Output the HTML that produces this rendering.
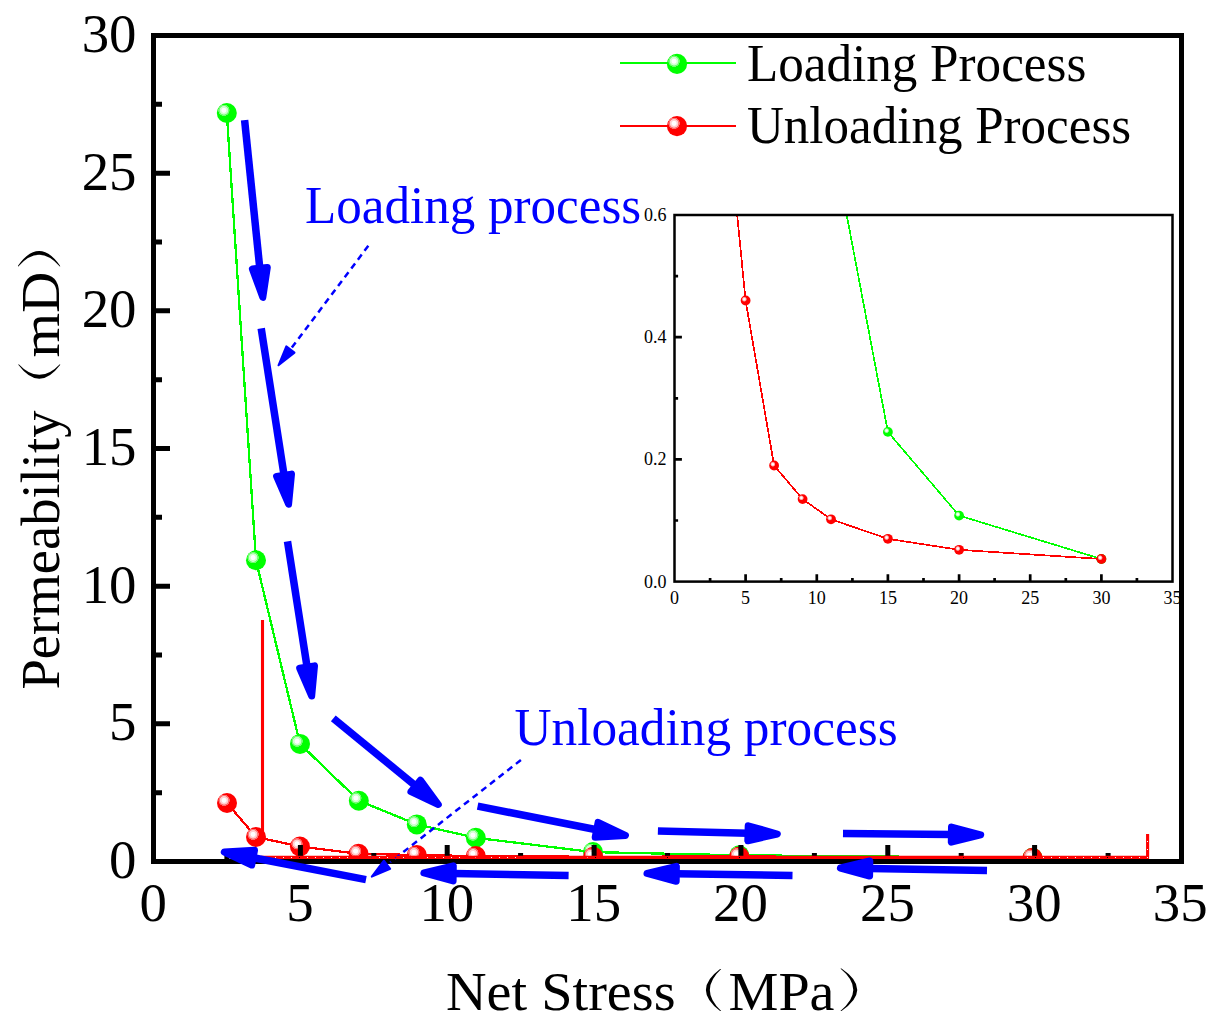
<!DOCTYPE html>
<html><head><meta charset="utf-8"><title>Permeability vs Net Stress</title>
<style>html,body{margin:0;padding:0;background:#fff;}svg{display:block;}text{font-family:"Liberation Serif",serif;}</style>
</head><body>
<svg width="1224" height="1031" viewBox="0 0 1224 1031">
<defs>
<radialGradient id="gG" cx="0.355" cy="0.365" r="0.29" fx="0.355" fy="0.365"><stop offset="0" stop-color="#ffffff"/><stop offset="0.36" stop-color="#ffffff"/><stop offset="0.5" stop-color="#d0ffd0"/><stop offset="0.68" stop-color="#d0ffd0"/><stop offset="0.78" stop-color="#70ff70"/><stop offset="0.94" stop-color="#70ff70"/><stop offset="1" stop-color="#00ff00"/></radialGradient>
<radialGradient id="gR" cx="0.355" cy="0.365" r="0.29" fx="0.355" fy="0.365"><stop offset="0" stop-color="#ffffff"/><stop offset="0.36" stop-color="#ffffff"/><stop offset="0.5" stop-color="#ffd0d0"/><stop offset="0.68" stop-color="#ffd0d0"/><stop offset="0.78" stop-color="#ff7070"/><stop offset="0.94" stop-color="#ff7070"/><stop offset="1" stop-color="#ff0000"/></radialGradient>
<radialGradient id="gGs" cx="0.37" cy="0.37" r="0.27" fx="0.37" fy="0.37"><stop offset="0" stop-color="#ffffff"/><stop offset="0.25" stop-color="#ffffff"/><stop offset="0.55" stop-color="#c8ffc8"/><stop offset="0.8" stop-color="#70ff70"/><stop offset="1" stop-color="#00ff00"/></radialGradient>
<radialGradient id="gRs" cx="0.37" cy="0.37" r="0.27" fx="0.37" fy="0.37"><stop offset="0" stop-color="#ffffff"/><stop offset="0.25" stop-color="#ffffff"/><stop offset="0.55" stop-color="#ffc8c8"/><stop offset="0.8" stop-color="#ff7070"/><stop offset="1" stop-color="#ff0000"/></radialGradient>
<clipPath id="cpM"><rect x="153.5" y="35.5" width="1028.0" height="826.0"/></clipPath>
<clipPath id="cpI"><rect x="674.5" y="215.0" width="498.0" height="366.6"/></clipPath>
</defs>
<rect width="1224" height="1031" fill="#fff"/>
<g clip-path="url(#cpM)">
<polyline points="226.8,113.0 256.0,560.3 300.0,743.9 358.8,800.7 416.8,824.4 475.8,837.8 593.0,852.1 739.3,855.3 1032.5,857.8" fill="none" stroke="#00ff00" stroke-width="2.3" shape-rendering="crispEdges"/>
<circle cx="226.8" cy="113.0" r="10" fill="url(#gG)"/>
<circle cx="256.0" cy="560.3" r="10" fill="url(#gG)"/>
<circle cx="300.0" cy="743.9" r="10" fill="url(#gG)"/>
<circle cx="358.8" cy="800.7" r="10" fill="url(#gG)"/>
<circle cx="416.8" cy="824.4" r="10" fill="url(#gG)"/>
<circle cx="475.8" cy="837.8" r="10" fill="url(#gG)"/>
<circle cx="593.0" cy="852.1" r="10" fill="url(#gG)"/>
<circle cx="739.3" cy="855.3" r="10" fill="url(#gG)"/>
<circle cx="1032.5" cy="857.8" r="10" fill="url(#gG)"/>
<polyline points="227.0,803.0 256.0,837.0 299.9,846.5 358.5,853.8 416.8,855.0 475.8,856.1 593.2,856.8 739.3,856.5 1032.5,857.8" fill="none" stroke="#ff0000" stroke-width="2.3" shape-rendering="crispEdges"/>
<circle cx="227.0" cy="803.0" r="10" fill="url(#gR)"/>
<circle cx="256.0" cy="837.0" r="10" fill="url(#gR)"/>
<circle cx="299.9" cy="846.5" r="10" fill="url(#gR)"/>
<circle cx="358.5" cy="853.8" r="10" fill="url(#gR)"/>
<circle cx="416.8" cy="855.0" r="10" fill="url(#gR)"/>
<circle cx="475.8" cy="856.1" r="10" fill="url(#gR)"/>
<circle cx="593.2" cy="856.8" r="10" fill="url(#gR)"/>
<circle cx="739.3" cy="856.5" r="10" fill="url(#gR)"/>
<circle cx="1032.5" cy="857.8" r="10" fill="url(#gR)"/>
</g>
<g clip-path="url(#cpI)">
<polyline points="842.6,193.3 846.7,215.0 887.9,431.9 959.1,515.6 1101.4,559.0" fill="none" stroke="#00ff00" stroke-width="1.7" shape-rendering="crispEdges"/>
<circle cx="887.9" cy="431.9" r="4.9" fill="url(#gGs)"/>
<circle cx="959.1" cy="515.6" r="4.9" fill="url(#gGs)"/>
<circle cx="1101.4" cy="559.0" r="4.9" fill="url(#gGs)"/>
<polyline points="736.4,206.4 737.2,215.0 745.6,300.5 774.1,465.5 802.6,499.1 831.0,519.3 887.9,538.8 959.1,549.8 1101.4,559.0" fill="none" stroke="#ff0000" stroke-width="1.7" shape-rendering="crispEdges"/>
<circle cx="745.6" cy="300.5" r="4.9" fill="url(#gRs)"/>
<circle cx="774.1" cy="465.5" r="4.9" fill="url(#gRs)"/>
<circle cx="802.6" cy="499.1" r="4.9" fill="url(#gRs)"/>
<circle cx="831.0" cy="519.3" r="4.9" fill="url(#gRs)"/>
<circle cx="887.9" cy="538.8" r="4.9" fill="url(#gRs)"/>
<circle cx="959.1" cy="549.8" r="4.9" fill="url(#gRs)"/>
<circle cx="1101.4" cy="559.0" r="4.9" fill="url(#gRs)"/>
</g>
<rect x="674.5" y="215.0" width="498.0" height="366.6" fill="none" stroke="#000" stroke-width="2.5"/>
<path d="M710.1 581.6 v-3.6 M745.6 581.6 v-7.4 M781.2 581.6 v-3.6 M816.8 581.6 v-7.4 M852.4 581.6 v-3.6 M887.9 581.6 v-7.4 M923.5 581.6 v-3.6 M959.1 581.6 v-7.4 M994.6 581.6 v-3.6 M1030.2 581.6 v-7.4 M1065.8 581.6 v-3.6 M1101.4 581.6 v-7.4 M1136.9 581.6 v-3.6 M674.5 520.5 h3.6 M674.5 459.4 h7.4 M674.5 398.3 h3.6 M674.5 337.2 h7.4 M674.5 276.1 h3.6" stroke="#000" stroke-width="2.7" fill="none"/>
<text x="674.5" y="603.7" font-size="18" text-anchor="middle">0</text>
<text x="745.6" y="603.7" font-size="18" text-anchor="middle">5</text>
<text x="816.8" y="603.7" font-size="18" text-anchor="middle">10</text>
<text x="887.9" y="603.7" font-size="18" text-anchor="middle">15</text>
<text x="959.1" y="603.7" font-size="18" text-anchor="middle">20</text>
<text x="1030.2" y="603.7" font-size="18" text-anchor="middle">25</text>
<text x="1101.4" y="603.7" font-size="18" text-anchor="middle">30</text>
<text x="1172.5" y="603.7" font-size="18" text-anchor="middle">35</text>
<text x="666.6" y="587.5" font-size="18" text-anchor="end">0.0</text>
<text x="666.6" y="465.3" font-size="18" text-anchor="end">0.2</text>
<text x="666.6" y="343.1" font-size="18" text-anchor="end">0.4</text>
<text x="666.6" y="220.9" font-size="18" text-anchor="end">0.6</text>
<rect x="153.5" y="35.5" width="1028.0" height="826.0" fill="none" stroke="#000" stroke-width="5"/>
<path d="M226.9 861.5 v-8.5 M300.4 861.5 v-16.5 M373.8 861.5 v-8.5 M447.2 861.5 v-16.5 M520.6 861.5 v-8.5 M594.1 861.5 v-16.5 M667.5 861.5 v-8.5 M740.9 861.5 v-16.5 M814.4 861.5 v-8.5 M887.8 861.5 v-16.5 M961.2 861.5 v-8.5 M1034.6 861.5 v-16.5 M1108.1 861.5 v-8.5 M153.5 792.7 h8.5 M153.5 723.8 h16.5 M153.5 655.0 h8.5 M153.5 586.2 h16.5 M153.5 517.3 h8.5 M153.5 448.5 h16.5 M153.5 379.7 h8.5 M153.5 310.8 h16.5 M153.5 242.0 h8.5 M153.5 173.2 h16.5 M153.5 104.3 h8.5" stroke="#000" stroke-width="5" fill="none"/>
<path d="M368.3 245.8 L290.4 349.5" stroke="#0000ff" stroke-width="2.5" fill="none" stroke-dasharray="6.3 4.7"/><path d="M278.5 365.3 L286.3 346.4 L294.5 352.6 Z" fill="#0000ff" stroke="#0000ff" stroke-width="2" stroke-linejoin="round"/>
<path d="M520.9 760.0 L390.2 862.3" stroke="#0000ff" stroke-width="2.5" fill="none" stroke-dasharray="6.3 4.7"/><path d="M371.8 876.7 L383.9 860.7 L390.2 868.8 Z" fill="#0000ff" stroke="#0000ff" stroke-width="2" stroke-linejoin="round"/>
<path d="M262.5 620 V838 M1147.6 856 V834" fill="none" stroke="#ff0000" stroke-width="3.1"/>
<path d="M261 856.4 H1149.1 M261 858.5 H1149.1" fill="none" stroke="#ff0000" stroke-width="1.1"/>
<path d="M261 857.5 H1149.1" fill="none" stroke="#ff0000" stroke-width="1.2" stroke-dasharray="7 1" stroke-dashoffset="1"/>
<rect x="1147" y="841" width="1" height="1" fill="#fff"/><rect x="1147" y="849" width="1" height="1" fill="#fff"/>
<text x="153.1" y="920.5" font-size="54.8" text-anchor="middle">0</text>
<text x="300.0" y="920.5" font-size="54.8" text-anchor="middle">5</text>
<text x="446.8" y="920.5" font-size="54.8" text-anchor="middle">10</text>
<text x="593.7" y="920.5" font-size="54.8" text-anchor="middle">15</text>
<text x="740.5" y="920.5" font-size="54.8" text-anchor="middle">20</text>
<text x="887.4" y="920.5" font-size="54.8" text-anchor="middle">25</text>
<text x="1034.2" y="920.5" font-size="54.8" text-anchor="middle">30</text>
<text x="1180.2" y="920.5" font-size="54.8" text-anchor="middle">35</text>
<text x="136.5" y="877.9" font-size="54.8" text-anchor="end">0</text>
<text x="136.5" y="740.2" font-size="54.8" text-anchor="end">5</text>
<text x="136.5" y="602.6" font-size="54.8" text-anchor="end">10</text>
<text x="136.5" y="464.9" font-size="54.8" text-anchor="end">15</text>
<text x="136.5" y="327.2" font-size="54.8" text-anchor="end">20</text>
<text x="136.5" y="189.6" font-size="54.8" text-anchor="end">25</text>
<text x="136.5" y="51.9" font-size="54.8" text-anchor="end">30</text>
<text x="446" y="1009.6" font-size="55.3" textLength="229.6" lengthAdjust="spacingAndGlyphs">Net Stress</text>
<text x="728.5" y="1009.6" font-size="55.3" textLength="106" lengthAdjust="spacingAndGlyphs">MPa</text>
<path d="M720.1 969.0 Q691.7 990.0 720.1 1010.9 L721.2 1010.9 Q698.5 990.0 721.2 969.0 Z" fill="#000"/>
<path d="M841.5 968.5 Q872.9 989.7 841.5 1010.9 L840.4 1010.9 Q866.1 989.7 840.4 968.5 Z" fill="#000"/>
<g transform="translate(59,688) rotate(-90)">
<text x="-1.5" y="0" font-size="54.6">Permeability</text>
<text x="330.5" y="0" font-size="54.6" textLength="86" lengthAdjust="spacingAndGlyphs">mD</text>
<path d="M323.0 -40.5 Q295.4 -19.7 323.0 1.1 L324.1 1.1 Q302.2 -19.7 324.1 -40.5 Z" fill="#000"/>
<path d="M422.3 -41.0 Q451.9 -19.9 422.3 1.1 L421.2 1.1 Q445.1 -19.9 421.2 -41.0 Z" fill="#000"/>
</g>
<path d="M620 62.9 H736" stroke="#00ff00" stroke-width="2.3" shape-rendering="crispEdges"/>
<circle cx="677" cy="63.9" r="10.1" fill="url(#gG)"/>
<path d="M620 125.9 H736" stroke="#ff0000" stroke-width="2.3" shape-rendering="crispEdges"/>
<circle cx="677" cy="126.05" r="10.1" fill="url(#gR)"/>
<text x="746.9" y="81.0" font-size="52" textLength="339.5" lengthAdjust="spacingAndGlyphs">Loading Process</text>
<text x="746.9" y="143.0" font-size="52" textLength="384.3" lengthAdjust="spacingAndGlyphs">Unloading Process</text>
<text x="305" y="223.0" font-size="52" fill="#0000ff" textLength="336.2" lengthAdjust="spacingAndGlyphs">Loading process</text>
<text x="514.5" y="744.8" font-size="52" fill="#0000ff" textLength="383.2" lengthAdjust="spacingAndGlyphs">Unloading process</text>
<path d="M244.6 120.1 L259.8 268.3" stroke="#0000ff" stroke-width="7.5" fill="none"/><path d="M262.8 297.4 L252.4 269.0 L267.3 267.5 Z" fill="#0000ff" stroke="#0000ff" stroke-width="7.0" stroke-linejoin="round"/>
<path d="M261.2 328.4 L284.1 475.3" stroke="#0000ff" stroke-width="7.5" fill="none"/><path d="M288.6 504.2 L276.6 476.4 L291.5 474.1 Z" fill="#0000ff" stroke="#0000ff" stroke-width="7.0" stroke-linejoin="round"/>
<path d="M287.5 541.4 L307.1 667.1" stroke="#0000ff" stroke-width="7.5" fill="none"/><path d="M311.7 696.0 L299.7 668.3 L314.5 665.9 Z" fill="#0000ff" stroke="#0000ff" stroke-width="7.0" stroke-linejoin="round"/>
<path d="M333.3 718.3 L415.6 785.9" stroke="#0000ff" stroke-width="7.5" fill="none"/><path d="M438.3 804.5 L410.9 791.7 L420.4 780.1 Z" fill="#0000ff" stroke="#0000ff" stroke-width="7.0" stroke-linejoin="round"/>
<path d="M477.6 806.1 L596.6 829.8" stroke="#0000ff" stroke-width="7.5" fill="none"/><path d="M625.4 835.5 L595.2 837.2 L598.1 822.4 Z" fill="#0000ff" stroke="#0000ff" stroke-width="7.0" stroke-linejoin="round"/>
<path d="M657.9 831.0 L748.0 833.3" stroke="#0000ff" stroke-width="7.5" fill="none"/><path d="M777.3 834.0 L747.8 840.8 L748.2 825.8 Z" fill="#0000ff" stroke="#0000ff" stroke-width="7.0" stroke-linejoin="round"/>
<path d="M843.0 833.6 L951.4 834.6" stroke="#0000ff" stroke-width="7.5" fill="none"/><path d="M980.7 834.9 L951.3 842.1 L951.5 827.1 Z" fill="#0000ff" stroke="#0000ff" stroke-width="7.0" stroke-linejoin="round"/>
<path d="M366.0 879.6 L253.1 857.7" stroke="#0000ff" stroke-width="7.5" fill="none"/><path d="M224.3 852.1 L254.5 850.3 L251.7 865.0 Z" fill="#0000ff" stroke="#0000ff" stroke-width="7.0" stroke-linejoin="round"/>
<path d="M568.6 875.5 L453.2 873.4" stroke="#0000ff" stroke-width="7.5" fill="none"/><path d="M423.9 872.9 L453.3 865.9 L453.1 880.9 Z" fill="#0000ff" stroke="#0000ff" stroke-width="7.0" stroke-linejoin="round"/>
<path d="M792.5 875.4 L676.3 873.8" stroke="#0000ff" stroke-width="7.5" fill="none"/><path d="M647.0 873.3 L676.4 866.3 L676.2 881.3 Z" fill="#0000ff" stroke="#0000ff" stroke-width="7.0" stroke-linejoin="round"/>
<path d="M987.0 870.5 L869.7 868.5" stroke="#0000ff" stroke-width="7.5" fill="none"/><path d="M840.4 868.0 L869.8 861.0 L869.6 876.0 Z" fill="#0000ff" stroke="#0000ff" stroke-width="7.0" stroke-linejoin="round"/>
</svg></body></html>
